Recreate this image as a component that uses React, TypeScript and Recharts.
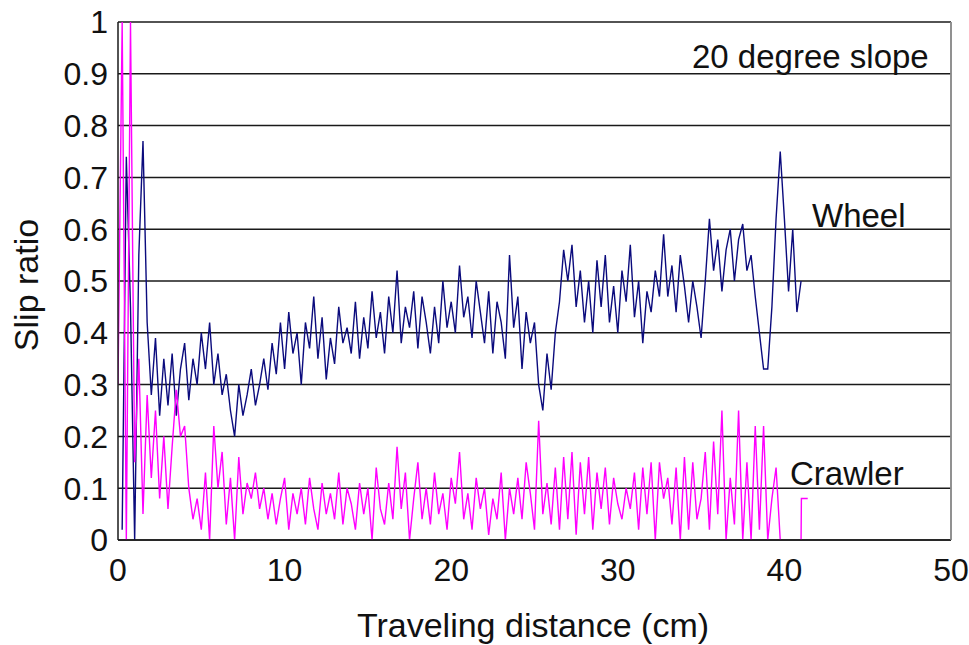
import { LineChart, Line, XAxis, YAxis, CartesianGrid, ReferenceLine } from 'recharts';

// Sampling step along the traveling distance (cm)
const STEP = 0.25;

// Wheel slip ratio, one value per STEP from 0 cm to 41 cm
const wheelSlip = [
  null, 0.02, 0.74, 0.45,
  0.0, 0.55, 0.77, 0.42,
  0.28, 0.39, 0.24, 0.35,
  0.26, 0.36, 0.24, 0.33,
  0.38, 0.27, 0.35, 0.3,
  0.4, 0.33, 0.42, 0.3,
  0.36, 0.28, 0.32, 0.25,
  0.2, 0.3, 0.24, 0.28,
  0.33, 0.26, 0.3, 0.35,
  0.29, 0.38, 0.32, 0.42,
  0.33, 0.44, 0.36, 0.4,
  0.3, 0.42, 0.37, 0.47,
  0.35, 0.43, 0.31, 0.39,
  0.34, 0.45, 0.38, 0.41,
  0.36, 0.46, 0.35, 0.43,
  0.37, 0.48, 0.39, 0.44,
  0.36, 0.47, 0.4, 0.52,
  0.38, 0.45, 0.41, 0.48,
  0.37, 0.47, 0.42, 0.36,
  0.45, 0.38, 0.5, 0.41,
  0.46, 0.4, 0.53, 0.43,
  0.47, 0.39, 0.5, 0.44,
  0.38, 0.48, 0.36, 0.46,
  0.42, 0.35, 0.55, 0.41,
  0.47, 0.33, 0.44, 0.38,
  0.42, 0.3, 0.25, 0.36,
  0.29, 0.4, 0.46, 0.56,
  0.5, 0.57, 0.45, 0.52,
  0.42, 0.5, 0.4, 0.54,
  0.45, 0.55, 0.42, 0.49,
  0.4, 0.52, 0.46, 0.57,
  0.43, 0.5, 0.38, 0.48,
  0.44, 0.52, 0.47, 0.59,
  0.47, 0.53, 0.44, 0.55,
  0.49, 0.42, 0.5, 0.45,
  0.39, 0.5, 0.62, 0.52,
  0.58, 0.48, 0.56, 0.6,
  0.5, 0.58, 0.61, 0.52,
  0.55, 0.47, 0.4, 0.33,
  0.33, 0.45, 0.62, 0.75,
  0.62, 0.48, 0.6, 0.44,
  0.5,
];

// Crawler slip ratio, same sampling
const crawlerSlip = [
  0.3, 1.0, 0.0, 1.0,
  0.15, 0.35, 0.05, 0.28,
  0.12, 0.25, 0.08, 0.2,
  0.06, 0.18, 0.29, 0.2,
  0.22, 0.1, 0.04, 0.08,
  0.02, 0.13, 0.0, 0.22,
  0.1, 0.17, 0.03, 0.12,
  0.0, 0.16, 0.05, 0.11,
  0.08, 0.13, 0.06, 0.1,
  0.04, 0.09, 0.03, 0.08,
  0.12, 0.02, 0.09, 0.05,
  0.1, 0.03, 0.12, 0.06,
  0.02, 0.11, 0.05, 0.09,
  0.04, 0.13, 0.03, 0.1,
  0.07, 0.02, 0.11, 0.05,
  0.1, 0.0, 0.14, 0.06,
  0.03, 0.11, 0.04, 0.18,
  0.06, 0.13, 0.0, 0.08,
  0.15, 0.04, 0.1, 0.03,
  0.13, 0.05, 0.09, 0.02,
  0.12, 0.07, 0.17, 0.04,
  0.09, 0.02, 0.12, 0.06,
  0.1, 0.01, 0.08, 0.04,
  0.13, 0.0, 0.1, 0.05,
  0.12, 0.04, 0.15, 0.09,
  0.02, 0.23, 0.05, 0.11,
  0.03, 0.14, 0.02, 0.16,
  0.04, 0.17, 0.01, 0.15,
  0.05, 0.16, 0.02, 0.13,
  0.06, 0.14, 0.03, 0.12,
  0.07, 0.04, 0.1, 0.06,
  0.13, 0.02, 0.14, 0.05,
  0.15, 0.0, 0.15, 0.08,
  0.12, 0.03, 0.14, 0.0,
  0.16, 0.02, 0.15, 0.04,
  0.08, 0.17, 0.02, 0.19,
  0.05, 0.25, 0.0, 0.12,
  0.03, 0.25, 0.0, 0.15,
  0.0, 0.22, 0.02, 0.22,
  0.0, 0.08, 0.14, 0.0,
  null, null, null, null,
  null,
];

// short crawler segment at the end of the run
const crawlerTailDistance = [41.0, 41.02, 41.4];
const crawlerTailSlip = [0.0, 0.08, 0.08];

const xTicks = [0, 10, 20, 30, 40, 50];
const yTicks = [0, 0.1, 0.2, 0.3, 0.4, 0.5, 0.6, 0.7, 0.8, 0.9, 1];

const chartData = wheelSlip.map((w, i) => ({
  d: i * STEP,
  wheel: w,
  crawler: crawlerSlip[i],
}));

const tailData = crawlerTailDistance.map((d, i) => ({ d, crawler: crawlerTailSlip[i] }));

const FONT = '"Liberation Sans", Arial, sans-serif';
const W = 969;
const H = 645;

export default function App() {
  return (
    <div style={{ position: 'absolute', left: 0, top: 0, width: W, height: H, background: '#fff', fontFamily: FONT }}>
      <LineChart
        width={W}
        height={H}
        data={chartData}
        margin={{ top: 22, right: 17, bottom: 75, left: 0 }}
      >
        <CartesianGrid vertical={false} stroke="#1a1a1a" strokeWidth={1.5} />
        <XAxis
          type="number"
          dataKey="d"
          domain={[0, 50]}
          ticks={xTicks}
          allowDataOverflow
          height={30}
          tickLine={false}
          tickSize={0}
          tickMargin={18}
          stroke="#1a1a1a"
          strokeWidth={1.5}
          tick={{ fill: '#111', fontSize: 32, fontFamily: FONT }}
        />
        <YAxis
          type="number"
          domain={[0, 1]}
          ticks={yTicks}
          allowDataOverflow
          width={118}
          tickLine={false}
          tickSize={0}
          tickMargin={10}
          stroke="#1a1a1a"
          strokeWidth={1.5}
          tick={{ fill: '#111', fontSize: 32, fontFamily: FONT }}
          tickFormatter={(v: number) => String(v)}
        />
        <YAxis
          yAxisId="frame"
          orientation="right"
          type="number"
          domain={[0, 1]}
          width={1}
          tick={false}
          tickLine={false}
          axisLine={{ stroke: '#8a8a8a', strokeWidth: 1.5 }}
        />
        <ReferenceLine x={50} stroke="#8a8a8a" strokeWidth={1.5} ifOverflow="visible" />
        <Line
          type="linear"
          dataKey="wheel"
          stroke="#0b0b7d"
          strokeWidth={1.4}
          dot={false}
          connectNulls={false}
          isAnimationActive={false}
        />
        <Line
          type="linear"
          dataKey="crawler"
          stroke="#ff00ff"
          strokeWidth={1.4}
          dot={false}
          connectNulls={false}
          isAnimationActive={false}
        />
        <Line
          type="linear"
          data={tailData}
          dataKey="crawler"
          stroke="#ff00ff"
          strokeWidth={1.4}
          dot={false}
          isAnimationActive={false}
        />
      </LineChart>
      <svg
        width={W}
        height={H}
        style={{ position: 'absolute', left: 0, top: 0, pointerEvents: 'none' }}
        fontFamily={FONT}
      >
        <text x={692} y={68} fontSize={33} fill="#111">20 degree slope</text>
        <text x={812} y={227} fontSize={33} fill="#111">Wheel</text>
        <text x={790} y={485} fontSize={33} fill="#111">Crawler</text>
        <text x={533} y={637} fontSize={34} fill="#111" textAnchor="middle">Traveling distance (cm)</text>
        <text
          x={38}
          y={285}
          fontSize={34}
          fill="#111"
          textAnchor="middle"
          transform="rotate(-90 38 285)"
        >
          Slip ratio
        </text>
      </svg>
    </div>
  );
}
